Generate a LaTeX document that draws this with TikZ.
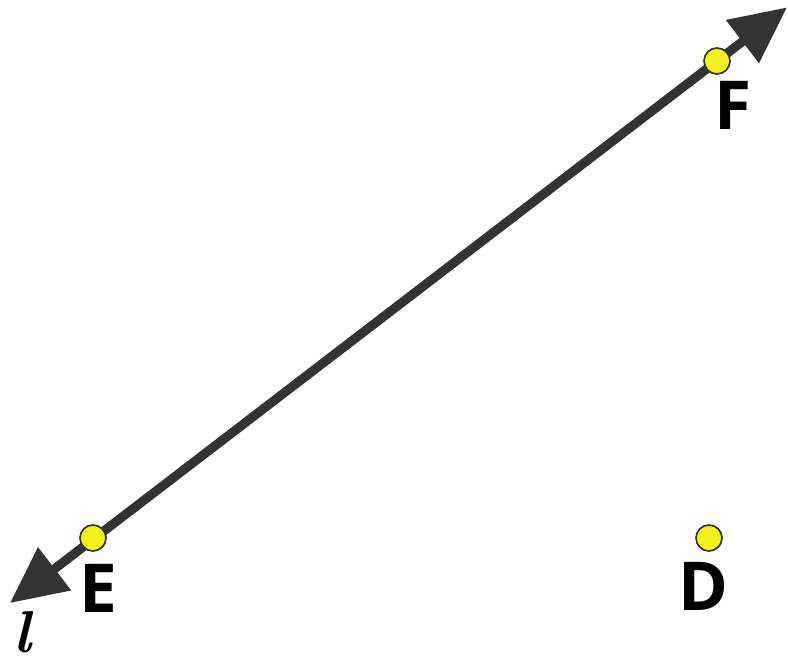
\documentclass[tikz,border=0pt]{standalone}
\usepackage{amsmath}
\usepackage{fontspec}
\setsansfont{Open Sans}
\usetikzlibrary{positioning, arrows.meta}
\definecolor{linegray}{HTML}{333333}
\definecolor{dotyellow}{HTML}{F2F21E}

\begin{document}
\begin{tikzpicture}[>={Triangle[length=40pt, width=37pt]}]
    % Stili
    \tikzstyle{pt} = [draw=linegray, fill=dotyellow, circle, line width=1.2pt, minimum size=0.65cm, inner sep=0pt]
    \tikzstyle{lbl} = [font=\sffamily\bfseries\fontsize{48}{52}\selectfont, inner sep=0pt]
    \tikzstyle{line} = [draw=linegray, line width=6.5pt]

    \useasboundingbox (0,0) rectangle (19.7,16.625);

    % Estremi della retta
    \coordinate (tip_l) at (0.25,1.55);
    \coordinate (tip_u) at (19.675,16.44);

    % Retta l
    \draw [line, <->] (tip_l) -- (tip_u);

    % Punti
    \node [pt] (E) at (2.325,3.175) {};
    \node [pt] (F) at (17.925,15.1) {};
    \node [pt] (D) at (17.725,3.175) {};

    % Etichette
    \node [lbl, below of=E, node distance=1.25cm, xshift=0.14cm] (E_lbl) {E};
    \node [lbl, below of=F, node distance=1.11cm, xshift=0.41cm] (F_lbl) {F};
    \node [lbl, below of=D, node distance=1.2cm, xshift=-0.15cm] (D_lbl) {D};
    \node [inner sep=0pt, font=\rmfamily\bfseries\itshape\fontsize{42}{46}\selectfont,
           below of=tip_l, node distance=0.74cm, xshift=0.3cm] (l_lbl) {l};
\end{tikzpicture}
\end{document}
